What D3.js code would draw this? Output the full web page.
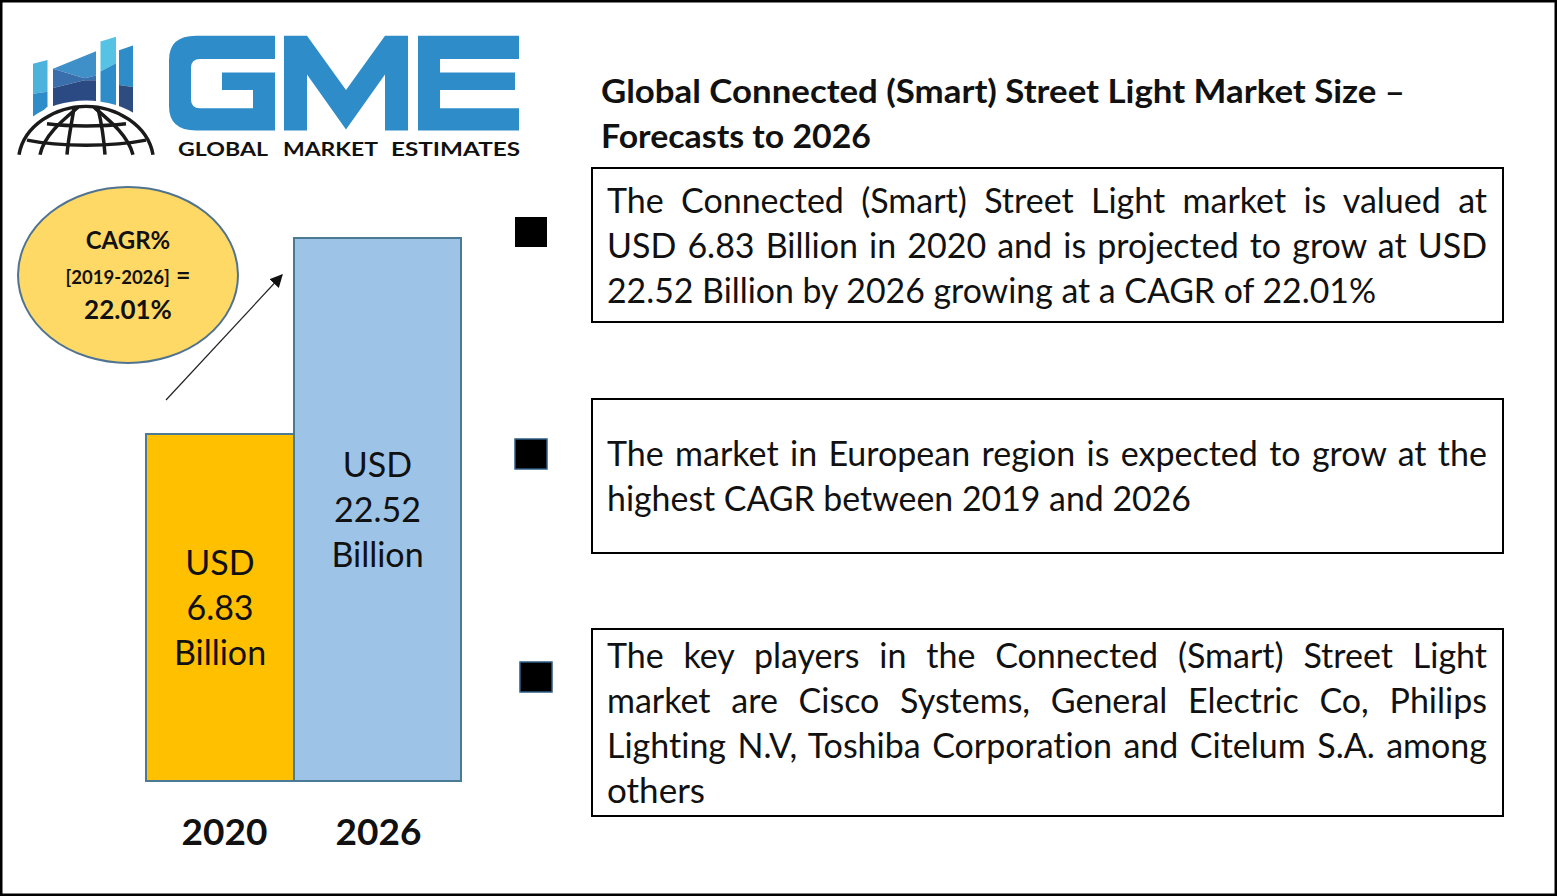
<!DOCTYPE html>
<html>
<head>
<meta charset="utf-8">
<script src="https://cdn.jsdelivr.net/npm/d3@7"></script>
<style>
  body { margin: 0; background: #fff; }
  text { font-family: Lato, "Open Sans", sans-serif; fill: #111; font-variant-ligatures: none; }
</style>
</head>
<body>
<svg id="chart"></svg>
<script>
const years = ['2020', '2026'];
const marketValues = [6.83, 22.52];
const barLabels = [['USD', '6.83', 'Billion'], ['USD', '22.52', 'Billion']];
const cagrLines = ['CAGR%', '[2019-2026]', '22.01%'];
const titleLines = ['Global Connected (Smart) Street Light Market Size \u2013', 'Forecasts to 2026'];
const box1Lines = [
  'The Connected (Smart) Street Light market is valued at',
  'USD 6.83 Billion in 2020 and is projected to grow at USD',
  '22.52 Billion by 2026 growing at a CAGR of 22.01%'
];
const box2Lines = [
  'The market in European region is expected to grow at the',
  'highest CAGR between 2019 and 2026'
];
const box3Lines = [
  'The key players in the Connected (Smart) Street Light',
  'market are Cisco Systems, General Electric Co, Philips',
  'Lighting N.V, Toshiba Corporation and Citelum S.A. among',
  'others'
];

const width = 1557, height = 896;
const svg = d3.select('#chart').attr('width', width).attr('height', height).style('display', 'block');

// frame
svg.append('rect').attr('x', 1).attr('y', 1).attr('width', width - 2).attr('height', height - 2)
  .attr('fill', '#fff').attr('stroke', '#000').attr('stroke-width', 3);

// logo
const logo = svg.append('g').attr('transform', 'scale(1,0.967)');
const poly = (pts, fill) => logo.append('polygon').attr('points', pts).attr('fill', fill);
poly('33,66 47.5,62 47.5,95 33,97', '#4DB2DC');
poly('33,97 47.5,95 47.5,110 33,126', '#2E8DC8');
poly('53,71 96,53 96,78 84.5,81', '#3F90C8');
poly('53,71 84.5,81 96,78 96,83 84.5,83 53,91', '#3A6FAE');
poly('53,91 84.5,83 96,83 96,105 53,112', '#2B4A84');
poly('100.5,43 116,38 116,65.5 100.5,74', '#57C3E4');
poly('100.5,74 116,65.5 116,110 100.5,107', '#2E8DC8');
poly('119,52 133,47 133,90 119,88', '#2E8DC8');
poly('119,88 133,90 133,120 119,112', '#2F4C80');

logo.append('ellipse').attr('cx', 86).attr('cy', 162).attr('rx', 76).attr('ry', 58).attr('fill', '#fff');
const globeLine = d => logo.append('path').attr('d', d).attr('fill', 'none')
  .attr('stroke', '#1a1a1a').attr('stroke-width', 3.5);
globeLine('M19,160 C24,130 55,110 86,110 C117,110 148,130 153,160');
globeLine('M78,111 C62,125 44,140 40,160');
globeLine('M74,112 C72,125 68,145 67,160');
globeLine('M98,112 C101,125 104,145 105,160');
globeLine('M94,111 C110,125 128,140 133,160');
globeLine('M47,128 C70,131 102,131 126,128');
globeLine('M27,145 C60,152 112,152 146,145');

const blue = '#2E8DC8';
const letter = d => logo.append('path').attr('d', d).attr('fill', blue);
letter('M275,37 L196,37 Q169,37 169,62 L169,110 Q169,135 196,135 L275,135 L275,75 L222,75 L222,93 L253,93 L253,112 L200,112 Q191,112 191,103 L191,70 Q191,61 200,61 L275,61 Z');
letter('M284,37 L307,37 L346,93 L385,37 L408,37 L408,135 L385,135 L385,77 L346,134 L307,77 L307,135 L284,135 Z');
letter('M418,37 L519,37 L519,61 L440,61 L440,75 L515,75 L515,93 L440,93 L440,112 L519,112 L519,135 L418,135 Z');

[['GLOBAL', 178, 90], ['MARKET', 283, 95], ['ESTIMATES', 391, 129]].forEach(([word, x, w]) => {
  logo.append('text').attr('x', x).attr('y', 161).attr('font-size', 19).attr('font-weight', 700)
    .attr('textLength', w).attr('lengthAdjust', 'spacingAndGlyphs').text(word);
});

// bars: the reference bars are not to scale, so the value scale is piecewise
const y = d3.scaleLinear().domain([0, marketValues[0], marketValues[1]]).range([781, 434, 238]);
const xLeft = d3.scaleOrdinal().domain(years).range([146, 294]);
const xWidth = d3.scaleOrdinal().domain(years).range([148, 167]);
const barColor = d3.scaleOrdinal().domain(years).range(['#FFC000', '#9DC3E6']);

svg.selectAll('.bar').data(years).enter().append('rect')
  .attr('class', 'bar')
  .attr('x', d => xLeft(d))
  .attr('width', d => xWidth(d))
  .attr('y', (d, i) => y(marketValues[i]))
  .attr('height', (d, i) => y(0) - y(marketValues[i]))
  .attr('fill', d => barColor(d))
  .attr('stroke', '#4A7A94')
  .attr('stroke-width', 2);

years.forEach((yr, i) => {
  const top = y(marketValues[i]);
  const cx = xLeft(yr) + xWidth(yr) / 2;
  barLabels[i].forEach((t, j) => {
    svg.append('text').attr('x', cx).attr('y', top + (i === 0 ? 141 : 239) + j * 45)
      .attr('text-anchor', 'middle').attr('font-size', 34).text(t);
  });
});

// year labels
const xAxis = d3.axisBottom(d3.scaleOrdinal().domain(years).range([224, 378])).tickSize(0);
const axisG = svg.append('g').attr('transform', 'translate(0,816)').call(xAxis);
axisG.select('.domain').remove();
axisG.selectAll('text').attr('font-size', 37).attr('font-weight', 700)
  .style('font-family', 'Lato, sans-serif').attr('fill', '#111');

// CAGR bubble
svg.append('ellipse').attr('cx', 128).attr('cy', 275).attr('rx', 110).attr('ry', 88)
  .attr('fill', '#FFD966').attr('stroke', '#4F7390').attr('stroke-width', 2);
[[0, 249, 24], [1, 284, 18.5], [2, 319, 26]].forEach(([i, yy, fs]) => {
  const t = svg.append('text').attr('x', 128).attr('y', yy).attr('text-anchor', 'middle')
    .attr('font-size', fs).attr('font-weight', 700).text(cagrLines[i]);
  if (i === 1) t.append('tspan').attr('font-size', 25).text(' =');
});

// growth arrow
svg.append('defs').append('marker').attr('id', 'head').attr('viewBox', '0 0 10 10')
  .attr('refX', 9).attr('refY', 5).attr('markerWidth', 13).attr('markerHeight', 13)
  .attr('markerUnits', 'userSpaceOnUse').attr('orient', 'auto')
  .append('path').attr('d', 'M0,0 L10,5 L0,10 Z').attr('fill', '#111');
svg.append('line').attr('x1', 166).attr('y1', 400).attr('x2', 282).attr('y2', 275)
  .attr('stroke', '#222').attr('stroke-width', 1.2).attr('marker-end', 'url(#head)');

// fits a line to a target width: by word spacing if justified, else by glyph length
function drawLine(t, x, baseline, x2, size, weight, justify) {
  const el = svg.append('text').attr('x', x).attr('y', baseline)
    .attr('font-size', size).attr('font-weight', weight).text(t);
  const natural = el.node().getComputedTextLength();
  const gaps = t.split(' ').length - 1;
  if (justify && gaps > 0 && natural < x2 - x) {
    el.style('word-spacing', ((x2 - x - natural) / gaps) + 'px');
  } else {
    el.attr('textLength', x2 - x).attr('lengthAdjust', 'spacingAndGlyphs');
  }
}

// title
drawLine(titleLines[0], 601, 103, 1405, 32, 700, false);
drawLine(titleLines[1], 601, 148, 871, 32, 700, false);

// text boxes
const boxes = [
  { top: 168, bottom: 322, lines: box1Lines, base: 213, ends: [1487, 1487, 1376], just: [true, true, false] },
  { top: 399, bottom: 553, lines: box2Lines, base: 466, ends: [1487, 1191], just: [true, false] },
  { top: 629, bottom: 816, lines: box3Lines, base: 668, ends: [1487, 1487, 1487, 705], just: [true, true, true, false] }
];
boxes.forEach(b => {
  svg.append('rect').attr('x', 592).attr('y', b.top).attr('width', 911).attr('height', b.bottom - b.top)
    .attr('fill', '#fff').attr('stroke', '#000').attr('stroke-width', 2);
  b.lines.forEach((t, i) => drawLine(t, 607, b.base + i * 45, b.ends[i], 34, 400, b.just[i]));
});

// bullets
[[515, 217], [515, 439], [520, 662]].forEach(([bx, by], i) => {
  svg.append('rect').attr('x', bx).attr('y', by).attr('width', 32).attr('height', 30)
    .attr('fill', '#000').attr('stroke', i === 0 ? 'none' : '#2F5C85').attr('stroke-width', 1.5);
});
</script>
</body>
</html>
